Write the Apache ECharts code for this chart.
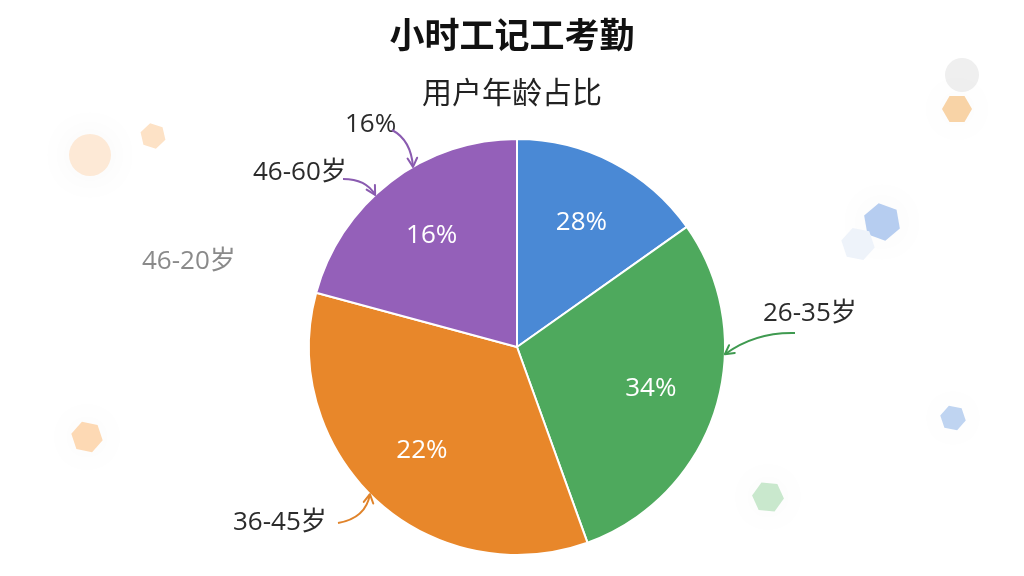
<!DOCTYPE html>
<html><head><meta charset="utf-8">
<script src="https://cdn.jsdelivr.net/npm/echarts@6/dist/echarts.min.js"></script>
<style>html,body{margin:0;padding:0;background:#fff}#c{width:1024px;height:576px}</style>
</head><body><div id="c"></div>
<script>
// ---- data ----
const titleText = '小时工记工考勤';
const subtitleText = '用户年龄占比';
const ageGroups = ['46-20岁', '26-35岁', '36-45岁', '46-60岁'];
const shareValues = [15.2, 29.3, 34.7, 20.8];
const percentLabels = ['28%', '34%', '22%', '16%'];
const extraLabels = ['', '', '', '16%'];
const sliceColors = ['#4a89d5', '#4ea95d', '#e8872a', '#9460b9'];

// ---- layout ----
const CENTER = [517, 347];
const R = 208;
const outerLabelPos = [[142, 262], [763, 314], [233, 523], [253, 173]];
const extraLabelPos = [[0, 0], [0, 0], [0, 0], [345, 125]];
const FONT = '"Open Sans", "Noto Sans CJK SC", sans-serif';
const lineColors = ['#888888', '#3f9a50', '#e0832a', '#8a5bb0'];
// annotation arrows: slice index, start point near label, control point, tip angle on the rim (deg, clockwise from top)
const arrows = [
  {slice: 1, from: [795, 333], cp: [755, 332], tipAngle: 92},
  {slice: 2, from: [338, 523], cp: [366, 518], tipAngle: 225},
  {slice: 3, from: [343, 179], cp: [366, 179], tipAngle: 317},
  {slice: 3, from: [392, 130], cp: [411, 140], tipAngle: 330}
];

function rimPoint(deg) {
  const a = deg * Math.PI / 180;
  return [CENTER[0] + R * Math.sin(a), CENTER[1] - R * Math.cos(a)];
}
function arrowGraphics(a) {
  const tip = rimPoint(a.tipAngle);
  const col = lineColors[a.slice];
  const dx = tip[0] - a.cp[0], dy = tip[1] - a.cp[1];
  const ang = Math.atan2(dy, dx);
  const L = 10, h = 0.5;
  const p1 = [tip[0] - L * Math.cos(ang - h), tip[1] - L * Math.sin(ang - h)];
  const p2 = [tip[0] - L * Math.cos(ang + h), tip[1] - L * Math.sin(ang + h)];
  return [
    {type: 'bezierCurve', silent: true, z: 5,
     shape: {x1: a.from[0], y1: a.from[1], x2: tip[0], y2: tip[1], cpx1: a.cp[0], cpy1: a.cp[1]},
     style: {stroke: col, lineWidth: 2, fill: null}},
    {type: 'polyline', silent: true, z: 5, shape: {points: [p1, tip, p2]},
     style: {stroke: col, lineWidth: 2, fill: null, lineJoin: 'round', lineCap: 'round'}}
  ];
}

function hex(cx, cy, r, rot) {
  const pts = [];
  for (let i = 0; i < 6; i++) {
    const a = (rot || 0) + i * Math.PI / 3;
    pts.push([cx + r * Math.cos(a), cy + r * Math.sin(a)]);
  }
  return pts;
}
const glow = {shadowBlur: 40, shadowColor: 'rgba(0,0,0,0.05)'};
const decos = [
  {type: 'circle', shape: {cx: 90, cy: 155, r: 21}, style: Object.assign({fill: '#fde9d6'}, glow)},
  {type: 'polygon', shape: {points: hex(153, 136, 13, 0.3)}, style: {fill: '#fde2c6'}},
  {type: 'polygon', shape: {points: hex(87, 437, 16, 0.2)}, style: Object.assign({fill: '#fdd9b4'}, glow)},
  {type: 'polygon', shape: {points: hex(768, 497, 16, 0.1)}, style: Object.assign({fill: '#c9e8cd'}, glow)},
  {type: 'polygon', shape: {points: hex(953, 418, 13, 0.2)}, style: Object.assign({fill: '#bfd4f1'}, glow)},
  {type: 'circle', shape: {cx: 962, cy: 75, r: 17}, style: {fill: '#efefef'}},
  {type: 'polygon', shape: {points: hex(957, 109, 15, 0)}, style: Object.assign({fill: '#f8d3a6'}, glow)},
  {type: 'polygon', shape: {points: hex(882, 222, 19, 0.35)}, style: Object.assign({fill: '#b6cdf0'}, glow)},
  {type: 'polygon', shape: {points: hex(858, 244, 17, 0.2)}, style: {fill: '#eef3fa'}}
];

const chart = echarts.init(document.getElementById('c'), null, {renderer: 'canvas'});
const baseData = ageGroups.map((n, i) => ({name: n, value: shareValues[i]}));

chart.setOption({
  backgroundColor: '#ffffff',
  animation: false,
  graphic: decos.map(d => Object.assign({silent: true, z: -10}, d))
    .concat([].concat(...arrows.map(arrowGraphics))),
  title: [
    {text: titleText, left: 'center', top: 12,
     textStyle: {fontFamily: '"Noto Sans CJK SC", sans-serif', fontSize: 35, fontWeight: 'bold', color: '#111'}},
    {text: subtitleText, left: 'center', top: 72,
     textStyle: {fontFamily: '"Noto Sans CJK SC", sans-serif', fontSize: 30, fontWeight: 'normal', color: '#222'}}
  ],
  series: [
    {
      type: 'pie', center: CENTER, radius: [0, R], startAngle: 90, clockwise: true,
      avoidLabelOverlap: false, silent: true,
      itemStyle: {borderColor: '#ffffff', borderWidth: 2},
      label: {show: false}, labelLine: {show: false},
      data: baseData.map((d, i) => Object.assign({}, d, {itemStyle: {color: sliceColors[i]}}))
    },
    {
      // inner percent labels
      type: 'pie', center: CENTER, radius: [0, R * 1.32], startAngle: 90, clockwise: true,
      avoidLabelOverlap: false, silent: true, z: 3,
      itemStyle: {color: 'rgba(0,0,0,0)'},
      label: {show: true, position: 'inside', color: '#ffffff', fontSize: 26, fontFamily: FONT,
        formatter: p => percentLabels[p.dataIndex]},
      labelLine: {show: false},
      data: baseData
    },
    {
      // outer name labels
      type: 'pie', center: CENTER, radius: [0, R], startAngle: 90, clockwise: true,
      avoidLabelOverlap: false, silent: true, z: 3,
      itemStyle: {color: 'rgba(0,0,0,0)'},
      label: {show: true, position: 'outside', fontSize: 26, fontFamily: FONT, color: '#2b2b2b'},
      labelLine: {show: false},
      labelLayout: p => {
        const q = outerLabelPos[p.dataIndex];
        return {x: q[0], y: q[1], align: 'left', verticalAlign: 'middle'};
      },
      data: baseData.map((d, i) => Object.assign({}, d, {
        label: i === 0 ? {color: '#8a8a8a'} : {}
      }))
    },
    {
      // extra outer label
      type: 'pie', center: CENTER, radius: [0, R], startAngle: 90, clockwise: true,
      avoidLabelOverlap: false, silent: true, z: 3,
      itemStyle: {color: 'rgba(0,0,0,0)'},
      label: {show: true, position: 'outside', fontSize: 26, fontFamily: FONT, color: '#2b2b2b',
        formatter: p => extraLabels[p.dataIndex]},
      labelLine: {show: false},
      labelLayout: p => {
        const q = extraLabelPos[p.dataIndex];
        return {x: q[0], y: q[1], align: 'left', verticalAlign: 'middle'};
      },
      data: baseData.map((d, i) => Object.assign({}, d, {
        label: {show: extraLabels[i] !== ''}
      }))
    }
  ]
});
</script>
</body></html>
